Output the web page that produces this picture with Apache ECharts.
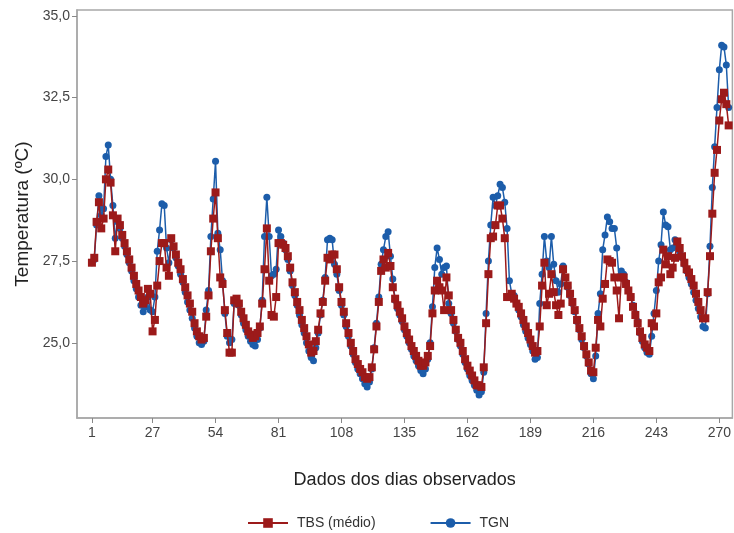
<!DOCTYPE html>
<html>
<head>
<meta charset="utf-8">
<script src="https://cdn.jsdelivr.net/npm/echarts@6/dist/echarts.min.js"></script>
<style>
  html, body { margin: 0; padding: 0; background: #fff; }
  #chart { width: 734px; height: 533px; }
</style>
</head>
<body>
<div id="chart"></div>
<script>
// TBS (médio) - dias 1..274
const tbs = [
  27.45, 27.6, 28.7, 29.3, 28.5, 28.8, 30.0, 30.3, 29.9, 28.9,
  27.8, 28.8, 28.6, 28.3, 28.05, 27.8, 27.55, 27.3, 27.05, 26.8,
  26.6, 26.4, 26.2, 26.3, 26.65, 26.5, 25.35, 25.7, 26.75, 27.5,
  28.05, 28.05, 27.3, 27.05, 28.2, 27.95, 27.7, 27.45, 27.25, 26.95,
  26.7, 26.45, 26.2, 25.95, 25.6, 25.35, 25.2, 25.1, 25.15, 25.8,
  26.45, 27.8, 28.8, 29.6, 28.2, 27.0, 26.8, 26.0, 25.3, 24.7,
  24.7, 26.3, 26.35, 26.2, 25.95, 25.75, 25.55, 25.35, 25.25, 25.15,
  25.2, 25.3, 25.5, 26.2, 27.25, 28.5, 26.9, 25.85, 25.8, 26.4,
  28.05, 28.05, 28.0, 27.9, 27.65, 27.3, 26.85, 26.55, 26.25, 26.0,
  25.7, 25.45, 25.2, 24.95, 24.7, 24.75, 25.05, 25.4, 25.9, 26.25,
  26.9, 27.6, 27.55, 27.7, 27.7, 27.25, 26.7, 26.25, 25.95, 25.6,
  25.3, 25.0, 24.75, 24.5, 24.35, 24.2, 24.1, 23.95, 23.9, 23.95,
  24.25, 24.8, 25.5, 26.25, 27.2, 27.55, 27.3, 27.75, 27.35, 26.7,
  26.35, 26.15, 25.95, 25.75, 25.5, 25.3, 25.1, 24.9, 24.75, 24.6,
  24.45, 24.3, 24.3, 24.4, 24.6, 24.9, 25.9, 26.6, 26.9, 26.7,
  26.6, 26.0, 27.0, 26.45, 26.0, 25.7, 25.4, 25.15, 25.0, 24.75,
  24.5, 24.3, 24.15, 24.0, 23.85, 23.7, 23.7, 23.65, 24.25, 25.6,
  27.1, 28.2, 28.25, 28.6, 29.2, 29.2, 28.8, 28.2, 26.4, 26.4,
  26.5, 26.35, 26.2, 26.1, 25.9, 25.7, 25.5, 25.3, 25.1, 24.9,
  24.7, 24.75, 25.5, 26.75, 27.45, 26.15, 26.5, 27.1, 26.55, 26.15,
  25.85, 26.2, 27.25, 27.0, 26.75, 26.5, 26.25, 26.0, 25.7, 25.45,
  25.2, 24.9, 24.65, 24.4, 24.15, 24.1, 24.85, 25.7, 25.5, 26.35,
  26.8, 27.55, 27.5, 27.45, 27.0, 26.6, 25.75, 27.0, 27.0, 26.8,
  26.6, 26.4, 26.1, 25.85, 25.6, 25.35, 25.15, 24.95, 24.85, 24.75,
  25.6, 25.5, 25.9, 26.85, 27.0, 27.85, 27.4, 27.65, 27.1, 27.3,
  27.6, 28.1, 27.9, 27.65, 27.45, 27.25, 27.15, 26.95, 26.75, 26.5,
  26.25, 26.0, 25.75, 25.75, 26.55, 27.65, 28.95, 30.2, 30.9, 31.8,
  32.45, 32.65, 32.3, 31.65
];

// TGN - dias 1..274
const tgn = [
  27.45, 27.55, 28.6, 29.5, 28.9, 29.1, 30.7, 31.05, 30.0, 29.2,
  28.2, 28.7, 28.5, 28.2, 27.95, 27.7, 27.45, 27.2, 26.9, 26.65,
  26.4, 26.15, 25.95, 26.1, 26.4, 26.0, 25.95, 26.4, 27.8, 28.45,
  29.25, 29.2, 27.9, 27.45, 28.15, 27.9, 27.6, 27.35, 27.1, 26.85,
  26.55, 26.25, 26.0, 25.75, 25.45, 25.2, 25.0, 24.95, 25.05, 26.0,
  26.6, 28.25, 29.4, 30.55, 28.35, 27.85, 26.9, 25.9, 25.2, 25.0,
  25.1, 26.2, 26.3, 26.15, 25.85, 25.6, 25.4, 25.2, 25.05, 24.95,
  24.9, 25.1, 25.45, 26.3, 28.25, 29.45, 28.25, 27.05, 27.1, 27.25,
  28.45, 28.25, 28.05, 27.85, 27.55, 27.2, 26.75, 26.45, 26.15, 25.85,
  25.55, 25.3, 25.0, 24.75, 24.55, 24.45, 24.85, 25.3, 25.85, 26.3,
  27.0, 28.15, 28.2, 28.15, 27.4, 27.1, 26.6, 26.15, 25.85, 25.5,
  25.2, 24.9, 24.65, 24.4, 24.2, 24.05, 23.9, 23.75, 23.65, 23.8,
  24.2, 24.85, 25.6, 26.4, 27.4, 27.85, 28.25, 28.4, 27.65, 26.95,
  26.3, 26.05, 25.85, 25.65, 25.4, 25.2, 25.0, 24.8, 24.6, 24.45,
  24.3, 24.15, 24.05, 24.2, 24.5, 25.0, 26.1, 27.3, 27.9, 27.55,
  27.1, 27.3, 27.35, 26.2, 25.9, 25.6, 25.35, 25.1, 24.9, 24.65,
  24.4, 24.2, 24.0, 23.85, 23.7, 23.55, 23.4, 23.5, 24.1, 25.9,
  27.5, 28.6, 29.45, 29.2, 29.5, 29.85, 29.75, 29.3, 28.5, 26.9,
  26.5, 26.45, 26.2, 26.0, 25.8, 25.55, 25.35, 25.15, 24.95, 24.75,
  24.5, 24.55, 26.2, 27.1, 28.25, 27.5, 27.3, 28.25, 27.4, 26.9,
  26.55, 26.8, 27.35, 27.0, 26.7, 26.45, 26.2, 25.95, 25.65, 25.4,
  25.1, 24.85, 24.6, 24.35, 24.05, 23.9, 24.6, 25.9, 26.5, 27.85,
  28.3, 28.85, 28.7, 28.5, 28.5, 27.9, 27.0, 27.2, 27.1, 26.85,
  26.6, 26.4, 26.15, 25.9, 25.65, 25.3, 25.05, 24.85, 24.7, 24.65,
  25.2, 25.9, 26.6, 27.5, 28.0, 29.0, 28.6, 28.55, 27.85, 27.9,
  28.15, 28.0, 27.8, 27.6, 27.4, 27.2, 27.0, 26.8, 26.55, 26.3,
  26.05, 25.8, 25.5, 25.45, 26.5, 27.95, 29.75, 31.0, 32.2, 33.35,
  34.1, 34.05, 33.5, 32.2
];

const xTicks = [1, 27, 54, 81, 108, 135, 162, 189, 216, 243, 270];
const yTicks = [25, 27.5, 30, 32.5, 35];

const font = '"Liberation Sans", Arial, sans-serif';
const toPairs = arr => arr.map((v, i) => [i + 1, v]);

const chart = echarts.init(document.getElementById('chart'));
chart.setOption({
  animation: false,
  backgroundColor: '#fff',
  textStyle: { fontFamily: font },
  grid: {
    left: 77, right: 1, top: 10, bottom: 115,
    show: true, borderColor: '#a8a8a8', borderWidth: 1.5
  },
  legend: {
    top: 516,
    left: 247,
    padding: 0,
    itemWidth: 40,
    itemHeight: 12,
    itemGap: 54,
    textStyle: { fontSize: 14, color: '#333', fontFamily: font, padding: [0, 0, 0, 4] },
    data: ['TBS (médio)', 'TGN']
  },
  xAxis: {
    type: 'value',
    min: -5.4,
    max: 275.6,
    name: 'Dados dos dias observados',
    nameLocation: 'middle',
    nameGap: 53,
    nameTextStyle: { fontSize: 18, color: '#222', fontFamily: font },
    axisLine: { show: true, onZero: false, lineStyle: { color: '#a8a8a8', width: 1.5 } },
    axisTick: { show: true, customValues: xTicks, length: 5, lineStyle: { color: '#888' } },
    axisLabel: {
      customValues: xTicks, color: '#444', fontSize: 14, margin: 8, fontFamily: font
    },
    splitLine: { show: false }
  },
  yAxis: {
    type: 'value',
    min: 22.7,
    max: 35.18,
    name: 'Temperatura (ºC)',
    nameLocation: 'middle',
    nameGap: 44,
    nameTextStyle: { fontSize: 19, color: '#222', fontFamily: font },
    axisLine: { show: true, onZero: false, lineStyle: { color: '#a8a8a8', width: 1.5 } },
    axisTick: { show: true, customValues: yTicks, length: 5, lineStyle: { color: '#888' } },
    axisLabel: {
      customValues: yTicks, color: '#444', fontSize: 14, margin: 7, fontFamily: font,
      formatter: v => v.toFixed(1).replace('.', ',')
    },
    splitLine: { show: false }
  },
  series: [
    {
      name: 'TBS (médio)',
      type: 'line',
      z: 3,
      data: toPairs(tbs),
      symbol: 'rect',
      symbolSize: 8,
      showAllSymbol: true,
      color: '#9c1a1a',
      lineStyle: { width: 1.5, color: '#9c1a1a' },
      itemStyle: { color: '#9c1a1a' }
    },
    {
      name: 'TGN',
      type: 'line',
      z: 2,
      data: toPairs(tgn),
      symbol: 'circle',
      symbolSize: 7,
      showAllSymbol: true,
      color: '#1c5daa',
      lineStyle: { width: 1.5, color: '#1c5daa' },
      itemStyle: { color: '#1c5daa' }
    }
  ]
});
</script>
</body>
</html>
